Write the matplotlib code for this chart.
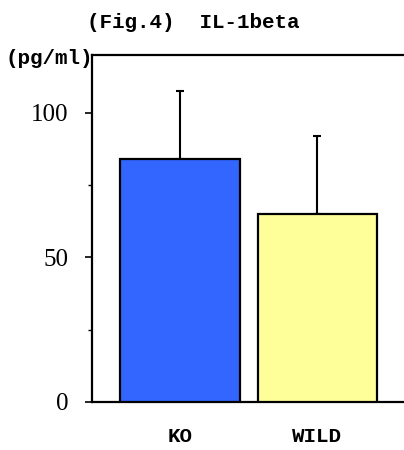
import numpy as np
import matplotlib.pyplot as plt
from matplotlib.ticker import MultipleLocator

# datos
grupos = ["KO", "WILD"]
medias = [84, 65]
errores = [23.5, 27]
colores = ["#3366FF", "#FFFF99"]

fig = plt.figure(figsize=(4.04, 4.5), dpi=100)
ax = fig.add_axes([92 / 404, 48 / 450, 1 - 92 / 404, 347 / 450])

x = np.arange(len(grupos))
ax.bar(x, medias, width=0.87, color=colores, edgecolor="black", linewidth=1.6, zorder=3)
ax.errorbar(x, medias, yerr=[np.zeros(len(errores)), errores], fmt="none",
            ecolor="black", elinewidth=1.5, capsize=3, capthick=1.5, zorder=2)

ax.set_xlim(-0.64, 1.63)
ax.set_ylim(0, 120)
ax.set_xticks(x)
ax.set_xticklabels(grupos, family="Liberation Mono", fontsize=15, weight="bold")
ax.tick_params(axis="x", length=0, pad=18)
ax.set_yticks([0, 50, 100])
ax.yaxis.set_minor_locator(MultipleLocator(25))
ax.tick_params(axis="y", which="major", length=5, width=1.2, direction="out", labelsize=18, pad=12)
ax.tick_params(axis="y", which="minor", length=3, width=1.0, direction="out")
for t in ax.get_yticklabels():
    t.set_family("Liberation Serif")

ax.spines["right"].set_visible(False)
for lado in ["left", "top", "bottom"]:
    ax.spines[lado].set_linewidth(1.6)

fig.text(87 / 404, 1 - 23 / 450, "(Fig.4)  IL-1beta", family="Liberation Mono",
         fontsize=15, weight="bold", va="center", ha="left")
fig.text(93 / 404, 1 - 58 / 450, "(pg/ml)", family="Liberation Mono",
         fontsize=15, weight="bold", va="center", ha="right")

fig.savefig("out.png", dpi=100)
